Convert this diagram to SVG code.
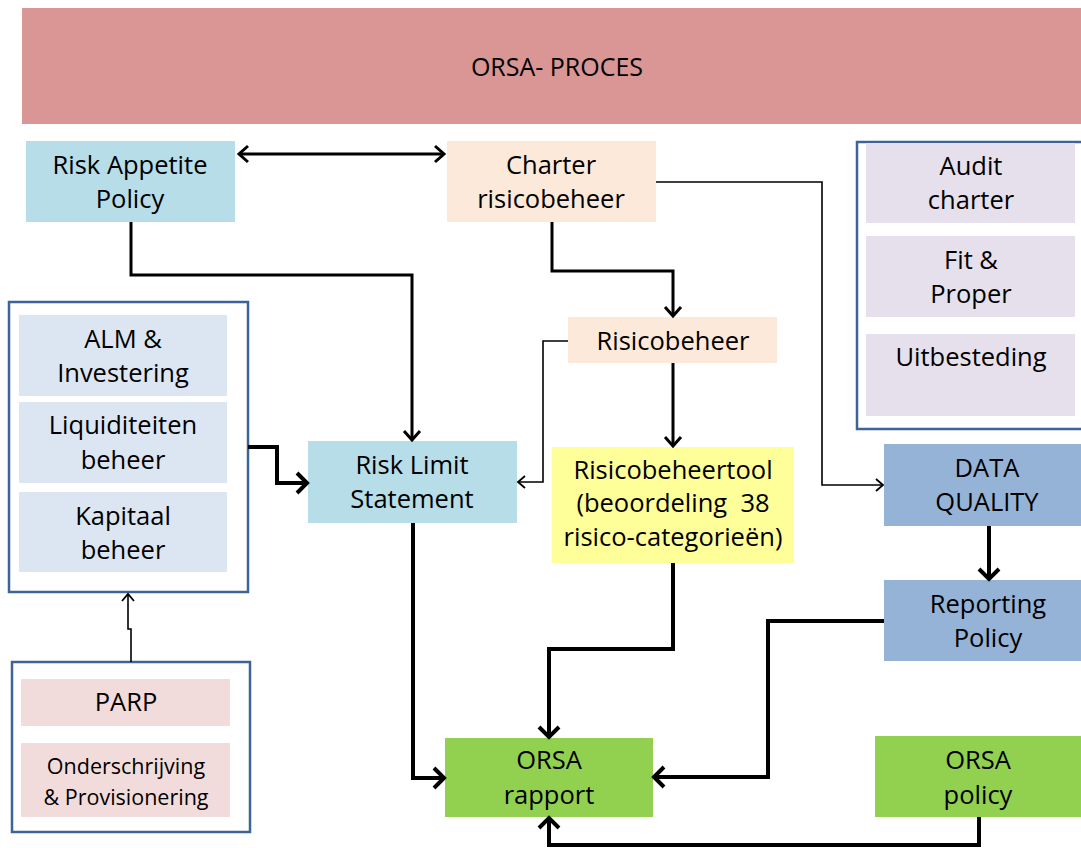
<svg xmlns="http://www.w3.org/2000/svg" width="1081" height="848" viewBox="0 0 1081 848">
<style>
text{font-family:"Open Sans","Noto Sans","Liberation Sans",sans-serif;font-size:25.5px;fill:#000;text-anchor:middle}
.sm{font-size:21.5px}
.grp{fill:#fff;stroke:#3d6496;stroke-width:2.5}
.c{fill:none;stroke:#000;stroke-linejoin:miter}
.thick{stroke-width:4}
.med{stroke-width:3}
.thin{stroke-width:1.6}
</style>
<defs>
<marker id="aT" viewBox="0 0 24 24" refX="20" refY="12" markerWidth="24" markerHeight="24" markerUnits="userSpaceOnUse" orient="auto-start-reverse">
<path d="M10,2 L20,12 L10,22" fill="none" stroke="#000" stroke-width="4"/>
</marker>
<marker id="aM" viewBox="0 0 20 20" refX="17" refY="10" markerWidth="20" markerHeight="20" markerUnits="userSpaceOnUse" orient="auto-start-reverse">
<path d="M8,2 L17,10 L8,18" fill="none" stroke="#000" stroke-width="3"/>
</marker>
<marker id="aS" viewBox="0 0 16 16" refX="14" refY="8" markerWidth="16" markerHeight="16" markerUnits="userSpaceOnUse" orient="auto-start-reverse">
<path d="M7,2 L14,8 L7,14" fill="none" stroke="#000" stroke-width="1.8"/>
</marker>
</defs>
<rect width="1081" height="848" fill="#fff"/>

<g id="title">
<rect x="22" y="8" width="1060" height="116" fill="#d99694"/>
<text x="557" y="76" style="font-size:25px">ORSA- PROCES</text>
</g>

<g id="group-left">
<rect class="grp" x="9" y="302" width="239" height="290"/>
</g>
<g id="group-right">
<rect class="grp" x="857" y="142" width="230" height="287"/>
</g>
<g id="group-parp">
<rect class="grp" x="12" y="662" width="238" height="170"/>
</g>

<g id="risk-appetite">
<rect x="26" y="141" width="209" height="81" fill="#b7dde8"/>
<text x="130" y="174">Risk Appetite</text>
<text x="130" y="208">Policy</text>
</g>
<g id="charter">
<rect x="447" y="141" width="209" height="81" fill="#fde9d9"/>
<text x="551" y="174">Charter</text>
<text x="551" y="208">risicobeheer</text>
</g>
<g id="risicobeheer">
<rect x="568" y="317" width="209" height="46" fill="#fde9d9"/>
<text x="673" y="350">Risicobeheer</text>
</g>
<g id="risk-limit">
<rect x="308" y="441" width="209" height="82" fill="#b7dde8"/>
<text x="412" y="474">Risk Limit</text>
<text x="412" y="508">Statement</text>
</g>
<g id="risicobeheertool">
<rect x="552" y="447" width="242" height="116" fill="#ffff99"/>
<text x="673" y="479">Risicobeheertool</text>
<text x="673" y="512" xml:space="preserve">(beoordeling  38</text>
<text x="673" y="546">risico-categorieën)</text>
</g>
<g id="alm">
<rect x="19" y="315" width="208" height="81" fill="#dce6f2"/>
<text x="123" y="348">ALM &amp;</text>
<text x="123" y="382">Investering</text>
</g>
<g id="liquiditeiten">
<rect x="19" y="402" width="208" height="81" fill="#dce6f2"/>
<text x="123" y="434">Liquiditeiten</text>
<text x="123" y="469">beheer</text>
</g>
<g id="kapitaal">
<rect x="19" y="492" width="208" height="80" fill="#dce6f2"/>
<text x="123" y="525">Kapitaal</text>
<text x="123" y="559">beheer</text>
</g>
<g id="audit">
<rect x="866" y="143" width="209" height="80" fill="#e6e0ec"/>
<text x="971" y="175">Audit</text>
<text x="971" y="209">charter</text>
</g>
<g id="fit-proper">
<rect x="866" y="236" width="209" height="81" fill="#e6e0ec"/>
<text x="971" y="269">Fit &amp;</text>
<text x="971" y="303">Proper</text>
</g>
<g id="uitbesteding">
<rect x="866" y="334" width="209" height="82" fill="#e6e0ec"/>
<text x="971" y="366">Uitbesteding</text>
</g>
<g id="data-quality">
<rect x="884" y="444" width="200" height="82" fill="#95b3d7"/>
<text x="987" y="477">DATA</text>
<text x="987" y="511">QUALITY</text>
</g>
<g id="reporting-policy">
<rect x="884" y="580" width="200" height="81" fill="#95b3d7"/>
<text x="988" y="613">Reporting</text>
<text x="988" y="647">Policy</text>
</g>
<g id="orsa-rapport">
<rect x="445" y="738" width="208" height="79" fill="#92d050"/>
<text x="549" y="769">ORSA</text>
<text x="549" y="804">rapport</text>
</g>
<g id="orsa-policy">
<rect x="875" y="736" width="209" height="81" fill="#92d050"/>
<text x="978" y="769">ORSA</text>
<text x="978" y="804">policy</text>
</g>
<g id="parp">
<rect x="21" y="679" width="209" height="47" fill="#f2dcdb"/>
<text x="126" y="711">PARP</text>
</g>
<g id="onderschrijving">
<rect x="21" y="743" width="209" height="74" fill="#f2dcdb"/>
<text class="sm" x="126" y="774">Onderschrijving</text>
<text class="sm" x="126" y="805">&amp; Provisionering</text>
</g>

<g id="connectors">
<path class="c med" d="M239,154 H444" marker-start="url(#aM)" marker-end="url(#aM)"/>
<path class="c med" d="M131,222 V275 H412 V440" marker-end="url(#aM)"/>
<path class="c med" d="M552,222 V271 H673 V316" marker-end="url(#aM)"/>
<path class="c thin" d="M656,182 H822 V485 H883" marker-end="url(#aS)"/>
<path class="c thin" d="M568,341 H543 V482 H518" marker-end="url(#aS)"/>
<path class="c med" d="M673,363 V446" marker-end="url(#aM)"/>
<path class="c thick" d="M248,447 H277 V483 H307" marker-end="url(#aT)"/>
<path class="c thick" d="M413,523 V778 H444" marker-end="url(#aT)"/>
<path class="c thick" d="M673,563 V649 H549 V737" marker-end="url(#aT)"/>
<path class="c thick" d="M884,621 H768 V777 H654" marker-end="url(#aT)"/>
<path class="c thick" d="M979,817 V845 H549 V818" marker-end="url(#aT)"/>
<path class="c thick" d="M989,526 V579" marker-end="url(#aT)"/>
<path class="c thin" d="M131,662 V629 H128 V594" marker-end="url(#aS)"/>
</g>
</svg>
